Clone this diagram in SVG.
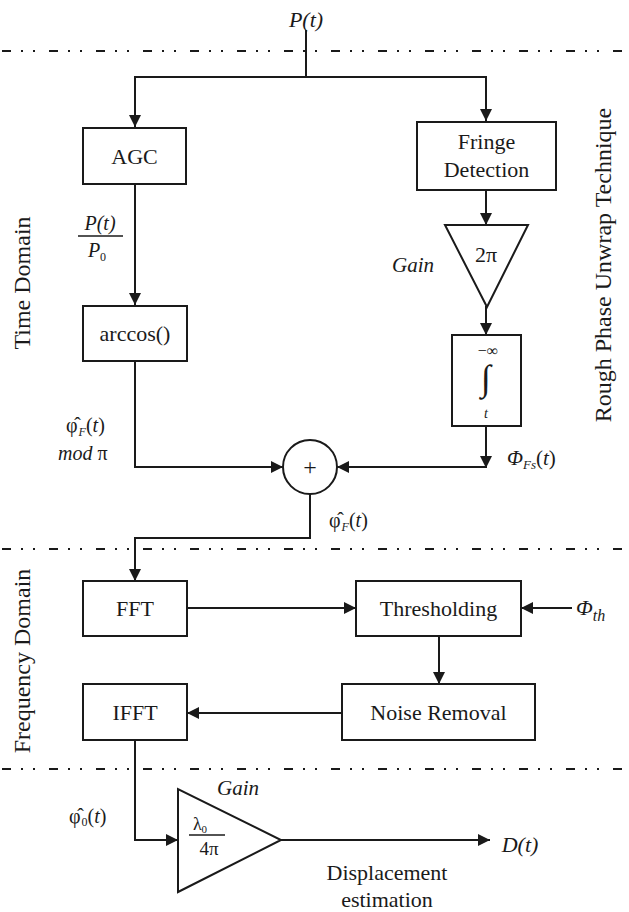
<svg xmlns="http://www.w3.org/2000/svg" width="629" height="912" viewBox="0 0 629 912" font-family="'Liberation Serif', 'Times New Roman', 'DejaVu Serif', serif">
<style>
text { font-family: "Liberation Serif", "Times New Roman", "DejaVu Serif", serif; fill: #1a1a1a; }
.lbl { font-size: 22px; text-anchor: middle; }
.it { font-style: italic; }
.box { fill: #fff; stroke: #1a1a1a; stroke-width: 2; }
.ln { fill: none; stroke: #1a1a1a; stroke-width: 2; }
.sep { stroke: #1a1a1a; stroke-width: 2.2; stroke-dasharray: 9 10 2 10 2 14; }
.side { font-size: 24px; text-anchor: middle; }
</style>
<defs>
<marker id="ah" markerUnits="userSpaceOnUse" markerWidth="13" markerHeight="13" refX="12" refY="6" orient="auto">
<path d="M0,0 L12,6 L0,12 z" fill="#1a1a1a"/>
</marker>
</defs>

<g id="separators">
<line class="sep" x1="2" y1="51" x2="629" y2="51"/>
<line class="sep" x1="2" y1="549" x2="629" y2="549"/>
<line class="sep" x1="2" y1="769" x2="629" y2="769"/>
</g>

<g id="side-labels">
<text class="side" transform="translate(30,283) rotate(-90)">Time Domain</text>
<text class="side" transform="translate(30,661) rotate(-90)">Frequency Domain</text>
<text class="side" font-size="23" transform="translate(611,265) rotate(-90)">Rough Phase Unwrap Technique</text>
</g>

<g id="connectors">
<path class="ln" d="M306,30 V77"/>
<path class="ln" d="M306,77 H135 V127" marker-end="url(#ah)"/>
<path class="ln" d="M306,77 H486 V121" marker-end="url(#ah)"/>
<path class="ln" d="M135,184 V305" marker-end="url(#ah)"/>
<path class="ln" d="M486,190 V225" marker-end="url(#ah)"/>
<path class="ln" d="M486,306 V335" marker-end="url(#ah)"/>
<path class="ln" d="M135,361 V467 H283" marker-end="url(#ah)"/>
<path class="ln" d="M486,426 V468" marker-end="url(#ah)"/>
<path class="ln" d="M486,467 H337" marker-end="url(#ah)"/>
<path class="ln" d="M310,494 V538 H135 V581" marker-end="url(#ah)"/>
<path class="ln" d="M187,608 H356" marker-end="url(#ah)"/>
<path class="ln" d="M572,608 H521" marker-end="url(#ah)"/>
<path class="ln" d="M439,636 V684" marker-end="url(#ah)"/>
<path class="ln" d="M342,713 H187" marker-end="url(#ah)"/>
<path class="ln" d="M135,740 V840 H178" marker-end="url(#ah)"/>
<path class="ln" d="M281,840 H490" marker-end="url(#ah)"/>
</g>

<g id="input">
<text class="lbl it" x="306" y="27">P(t)</text>
</g>

<g id="agc">
<rect class="box" x="83" y="128" width="103" height="56"/>
<text class="lbl" x="134.5" y="164">AGC</text>
</g>

<g id="agc-label">
<text class="it" x="100" y="230" font-size="20" text-anchor="middle">P(t)</text>
<line x1="78" y1="236" x2="123" y2="236" stroke="#1a1a1a" stroke-width="1.5"/>
<text class="it" x="97" y="257" font-size="20" text-anchor="middle">P<tspan font-size="12" font-style="normal" dy="4">0</tspan></text>
</g>

<g id="arccos">
<rect class="box" x="83" y="306" width="104" height="55"/>
<text class="lbl" x="135" y="341">arccos()</text>
</g>

<g id="fringe">
<rect class="box" x="417" y="122" width="139" height="68"/>
<text class="lbl" x="486.5" y="149">Fringe</text>
<text class="lbl" x="486.5" y="177">Detection</text>
</g>

<g id="gain-2pi">
<polygon class="box" points="445,225 528,225 487,307"/>
<text class="lbl" x="486" y="262">2π</text>
<text class="it" x="392" y="272" font-size="21">Gain</text>
</g>

<g id="integral">
<rect class="box" x="452" y="335" width="69" height="91"/>
<text x="488" y="356" font-size="16" text-anchor="middle">−∞</text>
<text x="486" y="390" font-size="36" text-anchor="middle">∫</text>
<text class="it" x="486" y="418" font-size="14" text-anchor="middle">t</text>
</g>

<g id="sum">
<circle cx="310" cy="467" r="27" fill="#fff" stroke="#1a1a1a" stroke-width="2"/>
<text x="310" y="475" font-size="24" text-anchor="middle">+</text>
</g>

<g id="phase-labels">
<text x="66" y="432" font-size="20">φ̂<tspan class="it" font-size="12" dx="1" dy="4">F</tspan><tspan dy="-4">(</tspan><tspan class="it">t</tspan>)</text>
<text class="it" x="58" y="460" font-size="20">mod <tspan font-style="normal">π</tspan></text>
<text class="it" x="507" y="465" font-size="21">Φ<tspan font-size="13" dy="4">Fs</tspan><tspan dy="-4" font-style="normal">(</tspan>t<tspan font-style="normal">)</tspan></text>
<text x="329" y="527" font-size="20">φ̂<tspan class="it" font-size="12" dx="1" dy="4">F</tspan><tspan dy="-4">(</tspan><tspan class="it">t</tspan>)</text>
</g>

<g id="fft">
<rect class="box" x="83" y="581" width="104" height="55"/>
<text class="lbl" x="135" y="616">FFT</text>
</g>

<g id="thresholding">
<rect class="box" x="356" y="581" width="165" height="55"/>
<text class="lbl" x="438.5" y="616">Thresholding</text>
<text class="it" x="576" y="615" font-size="22">Φ<tspan font-size="16" dy="6">th</tspan></text>
</g>

<g id="noise-removal">
<rect class="box" x="342" y="684" width="193" height="56"/>
<text class="lbl" x="438.5" y="720">Noise Removal</text>
</g>

<g id="ifft">
<rect class="box" x="83" y="684" width="104" height="56"/>
<text class="lbl" x="135" y="720">IFFT</text>
</g>

<g id="gain-lambda">
<polygon class="box" points="178,789 178,892 281,840"/>
<text x="200" y="830" font-size="18" text-anchor="middle">λ<tspan font-size="11" dy="3">0</tspan></text>
<line x1="189" y1="835" x2="225" y2="835" stroke="#1a1a1a" stroke-width="1.5"/>
<text x="209" y="855" font-size="19" text-anchor="middle">4π</text>
<text class="it" x="217" y="795" font-size="21">Gain</text>
<text x="69" y="823" font-size="20">φ̂<tspan font-size="12" dx="1" dy="3">0</tspan><tspan dy="-3">(</tspan><tspan class="it">t</tspan>)</text>
</g>

<g id="output">
<text class="it" x="520" y="852" font-size="22" text-anchor="middle">D(t)</text>
<text class="lbl" x="387" y="880" font-size="20">Displacement</text>
<text class="lbl" x="387" y="907" font-size="20">estimation</text>
</g>
</svg>
